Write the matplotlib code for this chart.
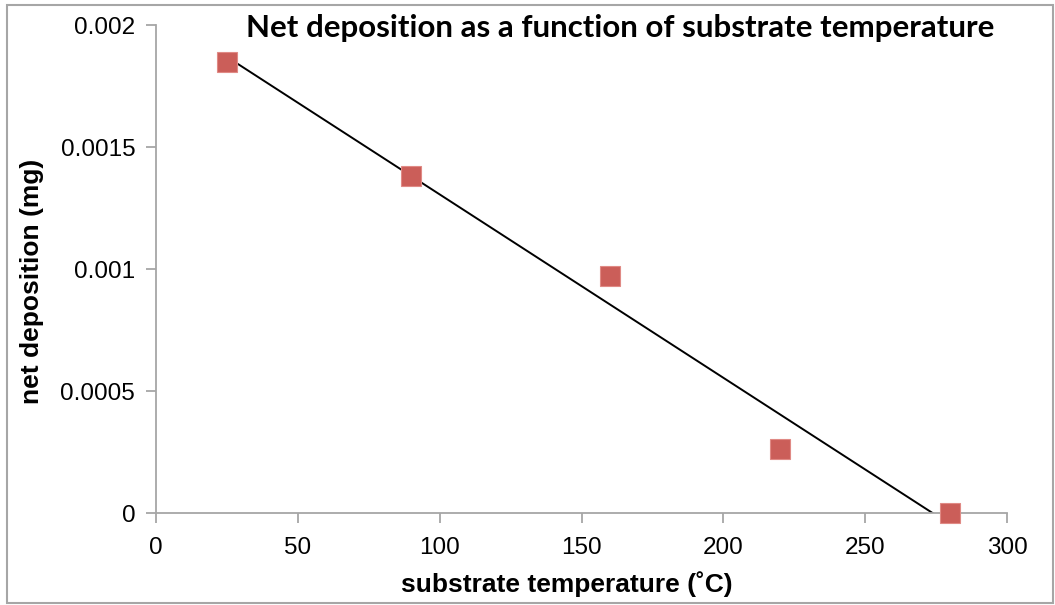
import matplotlib.pyplot as plt
import numpy as np
from matplotlib.patches import Rectangle

# data
temperature = [25, 90, 160, 220, 280]
deposition = [0.001848, 0.001381, 0.000971, 0.000262, 0.0]

x_ticks = [0, 50, 100, 150, 200, 250, 300]
y_ticks = [0, 0.0005, 0.001, 0.0015, 0.002]
y_labels = ['0', '0.0005', '0.001', '0.0015', '0.002']

plt.rcParams['font.family'] = ['Liberation Sans', 'DejaVu Sans']

fig = plt.figure(figsize=(10.55, 6.05), dpi=100)
ax = fig.add_axes([156 / 1055, 92 / 605, 851 / 1055, 488 / 605])

# linear trendline (least squares on the points)
coef = np.polyfit(temperature, deposition, 1)
xs = np.array([temperature[0], temperature[-1]])
ax.plot(xs, np.polyval(coef, xs), color='black', lw=1.4, zorder=2)

ax.plot(temperature, deposition, 's', markersize=15, markerfacecolor='#CB5E59',
        markeredgecolor='#E08A85', markeredgewidth=0.8, zorder=3, clip_on=False)

ax.set_xlim(0, 300)
ax.set_ylim(0, 0.002)
ax.set_xticks(x_ticks)
ax.set_yticks(y_ticks)
ax.set_yticklabels(y_labels)

for s in ['top', 'right']:
	ax.spines[s].set_visible(False)
for s in ['left', 'bottom']:
	ax.spines[s].set_color('#A6A6A6')
	ax.spines[s].set_linewidth(1.3)

ax.tick_params(axis='both', direction='out', length=7, width=1.3, color='#A6A6A6',
               labelsize=17.5)
ax.tick_params(axis='x', pad=10)
ax.tick_params(axis='y', pad=8)

ax.set_xlabel('substrate temperature (˚C)', fontsize=19, fontweight='bold')
ax.set_ylabel('net deposition (mg)', fontsize=19, fontweight='bold')
ax.xaxis.set_label_coords(0.483, -0.12)
ax.yaxis.set_label_coords(-0.132, 0.475)

fig.text(0.588, 0.953, 'Net deposition as a function of substrate temperature',
         ha='center', va='center', fontsize=22.5, fontweight='bold', family=['Lato', 'DejaVu Sans'])

# outer chart frame
fig.patches.append(Rectangle((7 / 1055, 2 / 605), 1046 / 1055, 598 / 605, transform=fig.transFigure,
                             fill=False, edgecolor='#A6A6A6', lw=1.5))

fig.savefig('out.png', dpi=100)
plt.close()
